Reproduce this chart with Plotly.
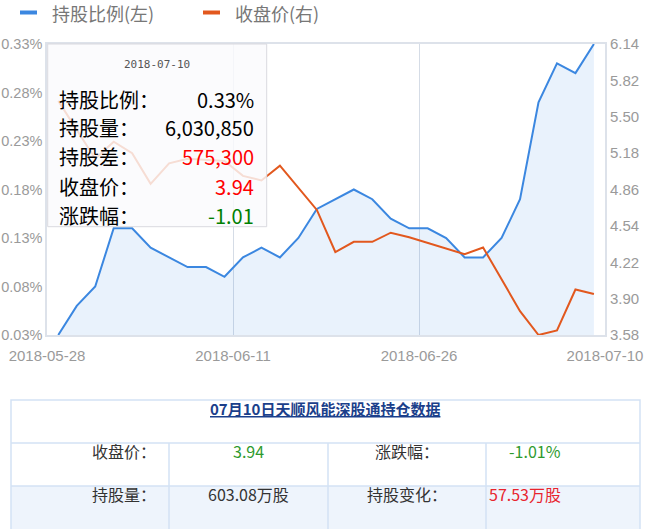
import plotly.graph_objects as go

# trading days shown on the chart
dates = [
    "2018-05-28", "2018-05-29", "2018-05-30", "2018-05-31", "2018-06-01",
    "2018-06-04", "2018-06-05", "2018-06-06", "2018-06-07", "2018-06-08",
    "2018-06-11", "2018-06-12", "2018-06-13", "2018-06-14", "2018-06-15",
    "2018-06-19", "2018-06-20", "2018-06-21", "2018-06-22", "2018-06-25",
    "2018-06-26", "2018-06-27", "2018-06-28", "2018-06-29", "2018-07-03",
    "2018-07-04", "2018-07-05", "2018-07-06", "2018-07-09", "2018-07-10",
]
# 持股比例 (%), left axis
hold_ratio = [
    0.03, 0.06, 0.08, 0.14, 0.14, 0.12, 0.11, 0.10, 0.10, 0.09,
    0.11, 0.12, 0.11, 0.13, 0.16, 0.17, 0.18, 0.17, 0.15, 0.14,
    0.14, 0.13, 0.11, 0.11, 0.13, 0.17, 0.27, 0.31, 0.30, 0.33,
]
# 收盘价, right axis
close_price = [
    5.64, 5.39, 5.13, 5.28, 5.18, 4.91, 5.09, 5.13, 5.12, 5.11,
    4.98, 4.94, 5.07, 4.88, 4.68, 4.31, 4.40, 4.40, 4.48, 4.44,
    4.39, 4.34, 4.29, 4.35, 4.07, 3.79, 3.58, 3.62, 3.98, 3.94,
]
x_tick_labels = ["2018-05-28", "2018-06-11", "2018-06-26", "2018-07-10"]
left_ticks = [0.03, 0.08, 0.13, 0.18, 0.23, 0.28, 0.33]
right_ticks = [3.58, 3.90, 4.22, 4.54, 4.86, 5.18, 5.50, 5.82, 6.14]

# tooltip / table figures for the last day
tip_hold_qty = "6,030,850"
tip_hold_diff = "575,300"
tip_change = "-1.01"
table_title = "07月10日天顺风能深股通持仓数据"
table_hold_qty = "603.08万股"
table_hold_chg = "57.53万股"

W, H = 648, 529
BLUE = "#3B87E0"
ORANGE = "#E2581E"
CJK = "Noto Sans CJK SC"


def px(x):
    return x / W


def py(y):
    return 1 - y / H


idx = list(range(len(dates)))
x_range = [-0.61, len(dates) - 1 + 0.6]
step = (x_range[1] - x_range[0]) / (len(x_tick_labels) - 1)
x_tickvals = [x_range[0] + 1e-3 + k * step for k in range(len(x_tick_labels) - 1)] + [x_range[1] - 1e-3]

fig = go.Figure()
fig.add_trace(go.Scatter(
    x=idx, y=hold_ratio, customdata=dates, mode="lines", name="持股比例(左)",
    line=dict(color=BLUE, width=2), fill="tozeroy", fillcolor="rgba(59,135,224,0.11)",
))
fig.add_trace(go.Scatter(
    x=idx, y=close_price, customdata=dates, mode="lines", name="收盘价(右)",
    line=dict(color=ORANGE, width=2), yaxis="y2",
))

axis_font = dict(family="Liberation Sans, Arial", size=15, color="#9a9a9a")
fig.update_layout(
    template="none",
    width=W, height=H,
    margin=dict(l=0, r=0, t=0, b=0, autoexpand=False),
    paper_bgcolor="white", plot_bgcolor="white",
    showlegend=False,
    xaxis=dict(
        domain=[px(47), px(605)], range=x_range, tickvals=x_tickvals, ticktext=x_tick_labels,
        showgrid=True, gridcolor="#D5DCE6", gridwidth=1, zeroline=False, automargin=False,
        showline=True, mirror=True, linecolor="#DDE2EA", linewidth=1.5,
        ticks="", tickfont=axis_font, ticklabelstandoff=6,
    ),
    yaxis=dict(
        domain=[py(335), py(44)], range=[0.03, 0.33], tickvals=left_ticks,
        ticktext=[f"{v:.2f}%" for v in left_ticks], automargin=False,
        showgrid=False, zeroline=False, showline=True, mirror=True,
        linecolor="#DDE2EA", linewidth=1.5, ticks="",
        tickfont=dict(axis_font, size=14.5), ticklabelstandoff=0,
    ),
    yaxis2=dict(
        overlaying="y", side="right", range=[3.58, 6.14], tickvals=right_ticks,
        ticktext=[f"{v:.2f}" for v in right_ticks], automargin=False,
        showgrid=False, zeroline=False, showline=False, ticks="", tickfont=axis_font,
        ticklabelstandoff=4,
    ),
)

shapes = []
annotations = []

# legend drawn by hand (short thick dashes)
for x0, color, text in [(20, BLUE, "持股比例(左)"), (203, ORANGE, "收盘价(右)")]:
    shapes.append(dict(type="line", xref="paper", yref="paper", x0=px(x0), x1=px(x0 + 17),
                       y0=py(12.5), y1=py(12.5), line=dict(color=color, width=4)))
    annotations.append(dict(xref="paper", yref="paper", x=px(x0 + 30), y=py(13), text=text,
                            xanchor="left", yanchor="middle", showarrow=False,
                            font=dict(family=CJK, size=18, color="#777777")))

# tooltip box for the last day
shapes.append(dict(type="rect", xref="paper", yref="paper", x0=px(47.7), x1=px(266.7),
                   y0=py(226.7), y1=py(44), fillcolor="rgba(250,250,252,0.82)",
                   line=dict(color="#D9D9DF", width=1), layer="above"))
annotations.append(dict(xref="paper", yref="paper", x=px(157), y=py(64), text=dates[-1],
                        showarrow=False, xanchor="center", yanchor="middle",
                        font=dict(family="DejaVu Sans Mono", size=11, color="#555555")))
tip_rows = [
    ("持股比例：", f"{hold_ratio[-1]:.2f}%", "#000000"),
    ("持股量：", tip_hold_qty, "#000000"),
    ("持股差：", tip_hold_diff, "#FF0000"),
    ("收盘价：", f"{close_price[-1]:.2f}", "#FF0000"),
    ("涨跌幅：", tip_change, "#008000"),
]
for i, (label, value, color) in enumerate(tip_rows):
    yy = py(99 + i * 29)
    annotations.append(dict(xref="paper", yref="paper", x=px(57), y=yy, text=label, showarrow=False,
                            xanchor="left", yanchor="middle", font=dict(family=CJK, size=20, color="#000")))
    annotations.append(dict(xref="paper", yref="paper", x=px(256), y=yy, text=value, showarrow=False,
                            xanchor="right", yanchor="middle", font=dict(family=CJK, size=20, color=color)))

# data table under the chart
border = "#D3E2F5"
shapes.append(dict(type="rect", xref="paper", yref="paper", x0=px(11), x1=px(640), y0=py(486),
                   y1=py(532), fillcolor="#EEF4FC", line=dict(width=0), layer="below"))
shapes.append(dict(type="rect", xref="paper", yref="paper", x0=px(11), x1=px(640), y0=py(532),
                   y1=py(400), line=dict(color=border, width=1.5)))
for yy in [443, 486]:
    shapes.append(dict(type="line", xref="paper", yref="paper", x0=px(11), x1=px(640),
                       y0=py(yy), y1=py(yy), line=dict(color=border, width=1.5)))
for xx in [169, 328, 486]:
    shapes.append(dict(type="line", xref="paper", yref="paper", x0=px(xx), x1=px(xx),
                       y0=py(443), y1=py(532), line=dict(color=border, width=1.5)))
annotations.append(dict(xref="paper", yref="paper", x=px(325), y=py(421),
                        text=f"<b><u>{table_title}</u></b>", showarrow=False,
                        font=dict(family=CJK, size=15, color="#1B3F8B")))
cell_font = dict(family=CJK, size=16)
table_cells = [
    (90, 465, "收盘价：", "#333333"), (248, 465, f"{close_price[-1]:.2f}", "#2E9A2E"),
    (407, 465, "涨跌幅：", "#333333"), (563, 465, tip_change + "%", "#2E9A2E"),
    (90, 508, "持股量：", "#333333"), (248, 508, table_hold_qty, "#333333"),
    (407, 508, "持股变化：", "#333333"), (563, 508, table_hold_chg, "#E8242E"),
]
for cx, cy, text, color in table_cells:
    annotations.append(dict(xref="paper", yref="paper", x=px(cx), y=py(cy), text=text,
                            showarrow=False, font=dict(cell_font, color=color)))

fig.update_layout(shapes=shapes, annotations=annotations)
# drop the page's default body margin so the figure sits at the window's corner
fig.write_html("out.html", config={"displayModeBar": False},
               post_script="document.body.style.margin = '0';")
